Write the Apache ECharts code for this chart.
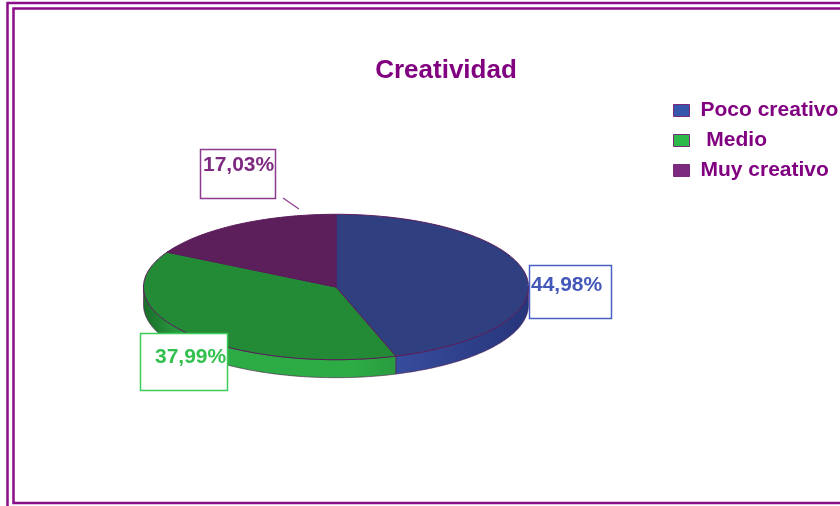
<!DOCTYPE html>
<html>
<head>
<meta charset="utf-8">
<script src="https://cdn.jsdelivr.net/npm/echarts@6/dist/echarts.min.js"></script>
<style>
  html, body { margin: 0; padding: 0; background: #fff; }
  #chart { width: 840px; height: 506px; }
</style>
</head>
<body>
<div id="chart"></div>
<script>
// Data
const categories = ['Poco creativo', ' Medio', 'Muy creativo'];
const percentages = [44.98, 37.99, 17.03];

// Styling per category
const topColors = ['#2f3f7f', '#238a36', '#5c1f5c'];
const sideLight = ['#3c53a8', '#2dab45', '#7a2a7a'];
const sideDark = ['#27357a', '#1a6c2a', '#4a164a'];
const legendColors = ['#3556ab', '#2db84a', '#7b2a80'];
const labelColors = ['#4257b8', '#33c04e', '#7d2a80'];
const labelBorders = ['#4a5fc2', '#3ccc57', '#8e3a8e'];
// label box: left, top, width, height, text x, text y (middle)
const labelBoxes = [
  [529, 265, 82, 53, 531, 285],
  [140, 333, 87, 57, 155, 357],
  [200, 149, 75, 49, 203, 165]
];
const leaders = [
  [527, 285, 531, 284],
  [188, 340, 188, 342],
  [283, 198, 299, 209]
];

const FONT = "'Liberation Sans', Arial, sans-serif";
const CX = 336, CY = 287, RX = 192.5, RY = 72.7, DEPTH = 18;
const total = percentages.reduce((a, b) => a + b, 0);

// angle measured clockwise from 12 o'clock
function pt(a, dy) {
  return [CX + RX * Math.sin(a), CY - RY * Math.cos(a) + (dy || 0)];
}
function arc(a0, a1, dy) {
  const pts = [];
  const n = Math.max(2, Math.ceil(Math.abs(a1 - a0) / (Math.PI / 180)));
  for (let k = 0; k <= n; k++) pts.push(pt(a0 + (a1 - a0) * k / n, dy));
  return pts;
}

function renderSlice(i, value) {
  let before = 0;
  for (let k = 0; k < i; k++) before += percentages[k];
  const a0 = before / total * Math.PI * 2;
  const a1 = a0 + value / total * Math.PI * 2;
  const children = [];

  // visible outer wall (front half of the disc)
  const s = Math.max(a0, Math.PI / 2), e = Math.min(a1, Math.PI * 3 / 2);
  if (e > s) {
    const wall = arc(s, e, 0).concat(arc(e, s, DEPTH));
    children.push({
      type: 'polygon',
      shape: { points: wall },
      style: {
        fill: {
          type: 'linear', x: CX - RX, y: 0, x2: CX + RX, y2: 0, global: true,
          colorStops: [
            { offset: 0, color: sideDark[i] },
            { offset: 0.12, color: sideLight[i] },
            { offset: 0.55, color: sideLight[i] },
            { offset: 1, color: sideDark[i] }
          ]
        },
        stroke: '#4a1a4a',
        lineWidth: 0.6
      }
    });
  }

  // top face
  const face = [[CX, CY]].concat(arc(a0, a1, 0));
  children.push({
    type: 'polygon',
    shape: { points: face },
    style: { fill: topColors[i], stroke: '#5a1a5a', lineWidth: 1 }
  });

  // value label
  const b = labelBoxes[i];
  const ld = leaders[i];
  children.push({
    type: 'line',
    shape: { x1: ld[0], y1: ld[1], x2: ld[2], y2: ld[3] },
    style: { stroke: labelBorders[i], lineWidth: 1.2 }
  });
  children.push({
    type: 'rect',
    shape: { x: b[0] + 0.5, y: b[1] + 0.5, width: b[2], height: b[3] },
    style: { fill: '#fff', stroke: labelBorders[i], lineWidth: 1.5 }
  });
  children.push({
    type: 'text',
    style: {
      x: b[4], y: b[5],
      text: value.toFixed(2).replace('.', ',') + '%',
      fill: labelColors[i],
      font: 'bold 21px ' + FONT,
      textAlign: 'left',
      textVerticalAlign: 'middle'
    }
  });
  return { type: 'group', children };
}

const chart = echarts.init(document.getElementById('chart'), null, { renderer: 'canvas' });

const series = categories.map((name, i) => ({
  type: 'custom',
  name: name,
  coordinateSystem: 'none',
  itemStyle: { color: legendColors[i] },
  data: [[percentages[i]]],
  renderItem: (params, api) => renderSlice(i, api.value(0))
}));

chart.setOption({
  animation: false,
  backgroundColor: '#fff',
  title: {
    text: 'Creatividad',
    left: 446,
    textAlign: 'center',
    top: 58,
    padding: 0,
    textStyle: { color: '#800080', fontSize: 26, fontWeight: 'bold', fontFamily: FONT }
  },
  legend: {
    orient: 'vertical',
    left: 673,
    top: 100,
    padding: 0,
    itemWidth: 16,
    itemHeight: 12,
    itemGap: 9,
    icon: 'rect',
    selectedMode: false,
    itemStyle: { borderColor: '#7a2a7a', borderWidth: 1 },
    textStyle: { color: '#800080', fontSize: 21, fontWeight: 'bold', fontFamily: FONT, padding: [0, 0, 0, 6] },
    data: categories
  },
  graphic: [
    {
      type: 'rect', silent: true,
      shape: { x: 7.5, y: 3, width: 900, height: 600 },
      style: { fill: 'none', stroke: '#8a0d8a', lineWidth: 2.5 }
    },
    {
      type: 'rect', silent: true,
      shape: { x: 13.5, y: 8.5, width: 900, height: 494.5 },
      style: { fill: 'none', stroke: '#8a0d8a', lineWidth: 2.5 }
    }
  ],
  series: series
});
</script>
</body>
</html>
